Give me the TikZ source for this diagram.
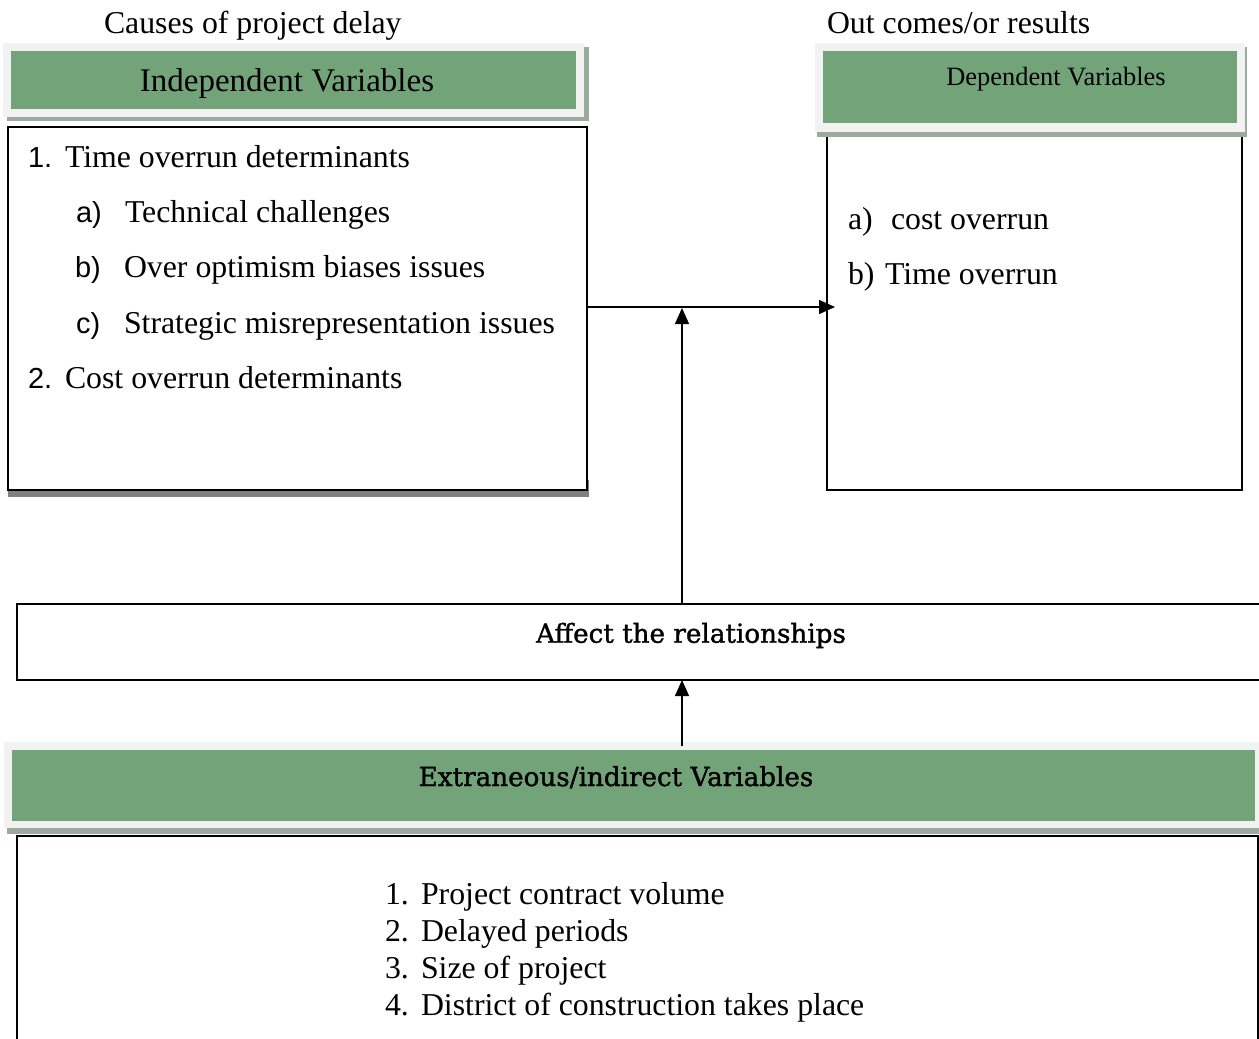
\documentclass[tikz,border=0pt]{standalone}
\usepackage{fontspec}
\setmainfont{Liberation Serif}
\newfontfamily\arialf{Liberation Sans}
\newfontfamily\slabf[FakeBold=1.3]{DejaVu Serif}
\usetikzlibrary{arrows.meta}
\definecolor{hdrgreen}{RGB}{114,163,121}
\definecolor{lightframe}{RGB}{242,242,242}
\definecolor{shadowgreen}{RGB}{155,170,157}
\definecolor{shadowgray}{RGB}{128,128,128}
\tikzset{
  txt/.style={font=\fontsize{31.8}{36}\selectfont, inner sep=0pt, outer sep=0pt, anchor=base west},
  num/.style={font=\arialf\fontsize{29}{32}\selectfont, inner sep=0pt, outer sep=0pt, anchor=base west},
  slab/.style={font=\slabf\fontsize{26.2}{30}\selectfont, inner sep=0pt, outer sep=0pt, anchor=base},
  rbox/.style={draw=none, inner sep=0pt, outer sep=0pt},
  box/.style={draw=black, fill=white, line width=1.6pt, inner sep=0pt, outer sep=0pt},
  arr/.style={-{Triangle[length=16pt,width=14pt]}, line width=1.4pt},
}
\begin{document}
\begin{tikzpicture}[x=1pt,y=-1pt]
\useasboundingbox (0,0) rectangle (1259,1039);
\fill[white] (0,0) rectangle (1259,1039);

% titles above
\node[txt] (causes) at (104,33.5) {Causes of project delay};
\node[txt] (outcomes) at (827,33.5) {Out comes/or results};

% independent list box
\fill[shadowgray] (8,480) rectangle (589,497);
\node[box, minimum width=579pt, minimum height=363pt] (ivbox) at (297.5,308.5) {};

% independent header
\fill[shadowgreen] (7,47) rectangle (589,121);
\fill[lightframe] (3,43) rectangle (584,117);
\node[rbox, fill=hdrgreen, minimum width=565pt, minimum height=58pt] (ivhdr) at (293.5,80) {};
\node[txt, anchor=base, font=\fontsize{33}{36}\selectfont] (ivtitle) at (287,91) {Independent Variables};

% dependent box
\node[box, line width=1.4pt, minimum width=415pt, minimum height=358pt] (dvbox) at (1034.5,311) {};
% dependent header
\fill[shadowgreen] (817,47) rectangle (1247,137);
\fill[lightframe] (815,43) rectangle (1245,132);
\node[rbox, fill=hdrgreen, minimum width=414pt, minimum height=72pt] (dvhdr) at (1030,87) {};
\node[txt, anchor=base, font=\fontsize{26.4}{30}\selectfont] (dvtitle) at (1056,85.5) {Dependent Variables};

% left list
\node[num] (n1) at (28,167.5) {1.};
\node[txt] (t1) at (65,167.5) {Time overrun determinants};
\node[num] (na) at (76,222.5) {a)};
\node[txt] (ta) at (125,222.5) {Technical challenges};
\node[num] (nb) at (75,277.5) {b)};
\node[txt] (tb) at (124,277.5) {Over optimism biases issues};
\node[num] (nc) at (76,333) {c)};
\node[txt] (tc) at (124,333) {Strategic misrepresentation issues};
\node[num] (n2) at (28,388) {2.};
\node[txt] (t2) at (65,388) {Cost overrun determinants};

% right list
\node[txt] (da) at (848,229) {a)};
\node[txt] (dat) at (891,229) {cost overrun};
\node[txt] (db) at (848,284) {b)};
\node[txt] (dbt) at (885,284) {Time overrun};

% affect box
\node[box, minimum width=1244pt, minimum height=76pt] (affect) at (639,642) {};
\node[slab] (afftxt) at (691,642.7) {Affect the relationships};

% extraneous header
\fill[shadowgreen] (7,746) rectangle (1275,834);
\fill[lightframe] (4,742) rectangle (1270,828);
\node[rbox, fill=hdrgreen, minimum width=1243pt, minimum height=71pt] (exhdr) at (633.5,785.5) {};
\node[slab] (extxt) at (616,786) {Extraneous/indirect Variables};

% extraneous box
\node[box, line width=1.4pt, minimum width=1241pt, minimum height=224pt] (exbox) at (637.5,948) {};
\node[txt] (e1) at (385,904.5) {1.};
\node[txt] (e1t) at (421,904.5) {Project contract volume};
\node[txt] (e2) at (385,941.5) {2.};
\node[txt] (e2t) at (421,941.5) {Delayed periods};
\node[txt] (e3) at (385,978.5) {3.};
\node[txt] (e3t) at (421,978.5) {Size of project};
\node[txt] (e4) at (385,1015.5) {4.};
\node[txt] (e4t) at (421,1015.5) {District of construction takes place};

% connectors
\coordinate (tip1) at (835,307);
\draw[arr] (ivbox.east |- tip1) -- (tip1);
\coordinate (j1) at (682,308);
\draw[arr] (affect.north -| j1) -- (j1);
\coordinate (s2) at (682,746);
\draw[arr] (s2) -- (affect.south -| s2);
\end{tikzpicture}
\end{document}
